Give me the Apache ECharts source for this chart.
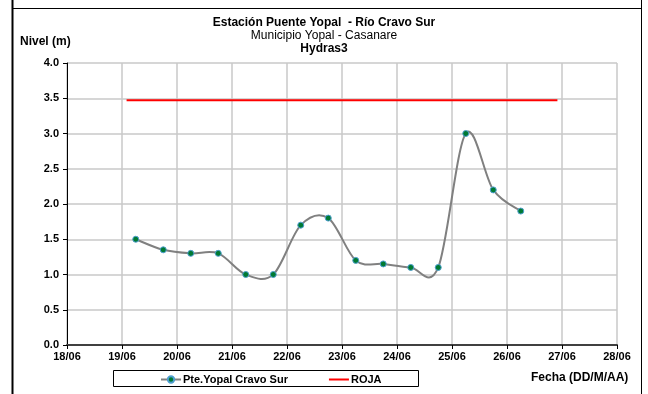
<!DOCTYPE html>
<html><head><meta charset="utf-8">
<script src="https://cdn.jsdelivr.net/npm/echarts@6/dist/echarts.min.js"></script>
<style>html,body{margin:0;padding:0;background:#fff}#c{width:648px;height:394px}</style>
</head><body><div id="c"></div>
<script>
// Data (fecha DD/MM HH:mm, nivel m)
const times = ["19/06 06:00","19/06 18:00","20/06 06:00","20/06 18:00","21/06 06:00","21/06 18:00","22/06 06:00","22/06 18:00","23/06 06:00","23/06 18:00","24/06 06:00","24/06 18:00","25/06 06:00","25/06 18:00","26/06 06:00"];
const nivel = [1.5,1.35,1.3,1.3,1.0,1.0,1.7,1.8,1.2,1.15,1.1,1.1,3.0,2.2,1.9];
const rojaTimes = ["19/06 02:00","26/06 22:00"];
const rojaValues = [3.47,3.47];
const xTicks = ["18/06","19/06","20/06","21/06","22/06","23/06","24/06","25/06","26/06","27/06","28/06"];

function toDay(s){ const [d,t]=s.split(' '); const day=parseInt(d.split('/')[0],10); const [h,m]=(t||'00:00').split(':').map(Number); return day+(h+m/60)/24; }
const xMin = toDay(xTicks[0]), xMax = toDay(xTicks[xTicks.length-1]);
const pts = times.map((t,i)=>[toDay(t),nivel[i]]);

const font = 'Liberation Sans, Arial, sans-serif';
const chart = echarts.init(document.getElementById('c'));

// Excel-like smoothed segment (Catmull-Rom style Bezier) drawn through the axis scales
function renderSeg(params, api){
  const i = params.dataIndex;
  if (i >= pts.length-1) return null;
  const c = k => api.coord(pts[Math.max(0,Math.min(pts.length-1,k))]);
  const p0=c(i-1), p1=c(i), p2=c(i+1), p3=c(i+2);
  const t=1/6;
  const cp1=[p1[0]+(p2[0]-p0[0])*t, p1[1]+(p2[1]-p0[1])*t];
  const cp2=[p2[0]-(p3[0]-p1[0])*t, p2[1]-(p3[1]-p1[1])*t];
  return {type:'bezierCurve', shape:{x1:p1[0],y1:p1[1],x2:p2[0],y2:p2[1],cpx1:cp1[0],cpy1:cp1[1],cpx2:cp2[0],cpy2:cp2[1]},
    style:{stroke:'#808080',lineWidth:2,fill:null}, silent:true};
}

chart.setOption({
  animation:false,
  backgroundColor:'#fff',
  title:[
    {text:'Estación Puente Yopal  - Río Cravo Sur', left:'center', top:12, textStyle:{fontFamily:font,fontSize:12,fontWeight:'bold',color:'#000'}},
    {text:'Municipio Yopal - Casanare', left:'center', top:25, textStyle:{fontFamily:font,fontSize:12,fontWeight:'normal',color:'#000'}},
    {text:'Hydras3', left:'center', top:38, textStyle:{fontFamily:font,fontSize:12,fontWeight:'bold',color:'#000'}}
  ],
  graphic:[
    {type:'line', shape:{x1:12.5,y1:0,x2:12.5,y2:394}, style:{stroke:'#000',lineWidth:2}},
    {type:'line', shape:{x1:641.5,y1:0,x2:641.5,y2:394}, style:{stroke:'#000',lineWidth:1}},
    {type:'line', shape:{x1:12,y1:8.5,x2:642,y2:8.5}, style:{stroke:'#000',lineWidth:1}},
    {type:'rect', shape:{x:113.5,y:370.5,width:305,height:16}, style:{fill:'none',stroke:'#000',lineWidth:1}},
    {type:'text', left:20, top:36, style:{text:'Nivel (m)', fontFamily:font, fontSize:12, fontWeight:'bold', fill:'#000'}},
    {type:'text', left:531, top:372, style:{text:'Fecha (DD/M/AA)', fontFamily:font, fontSize:12, fontWeight:'bold', fill:'#000'}}
  ],
  legend:{
    left:155, top:369, itemGap:40, itemWidth:20, itemHeight:8,
    textStyle:{fontFamily:font,fontSize:11,fontWeight:'bold',color:'#000',padding:[0,0,0,-3]},
    data:[
      {name:'Pte.Yopal Cravo Sur', lineStyle:{color:'#808080',width:2,opacity:1}},
      {name:'ROJA', itemStyle:{opacity:0}}
    ]
  },
  grid:{left:67,right:31,top:63,bottom:49},
  xAxis:{
    type:'value', min:xMin, max:xMax, interval:1,
    axisLine:{lineStyle:{color:'#404040',width:2}},
    axisTick:{show:true,length:4,lineStyle:{color:'#000'}},
    axisLabel:{fontFamily:font,fontSize:11,fontWeight:'bold',color:'#000',margin:6,
      formatter:(v)=>{const i=Math.round(v-xMin);return xTicks[i]||'';}},
    splitLine:{show:true,lineStyle:{color:'#c8c8c8',width:1.5}}
  },
  yAxis:{
    type:'value', min:0, max:4, interval:0.5,
    axisLine:{show:true,lineStyle:{color:'#000',width:1}},
    axisTick:{show:true,length:4,lineStyle:{color:'#000'}},
    axisLabel:{fontFamily:font,fontSize:11,fontWeight:'bold',color:'#000',margin:8,formatter:(v)=>v.toFixed(1)},
    splitLine:{show:true,lineStyle:{color:'#c8c8c8',width:1.5}}
  },
  series:[
    {name:'curve', type:'custom', renderItem:renderSeg, data:pts, z:2, clip:false},
    {name:'Pte.Yopal Cravo Sur', type:'line', smooth:false,
     data:pts, z:3,
     symbol:'circle', symbolSize:6,
     lineStyle:{color:'#808080',width:2,opacity:0},
     itemStyle:{color:'#007a33',borderColor:'#4f9fd0',borderWidth:1}},
    {name:'ROJA', type:'line', data:rojaTimes.map((t,i)=>[toDay(t),rojaValues[i]]),
     symbol:'none', lineStyle:{color:'#ff0000',width:2}, itemStyle:{color:'#ff0000'}}
  ]
});
</script></body></html>
